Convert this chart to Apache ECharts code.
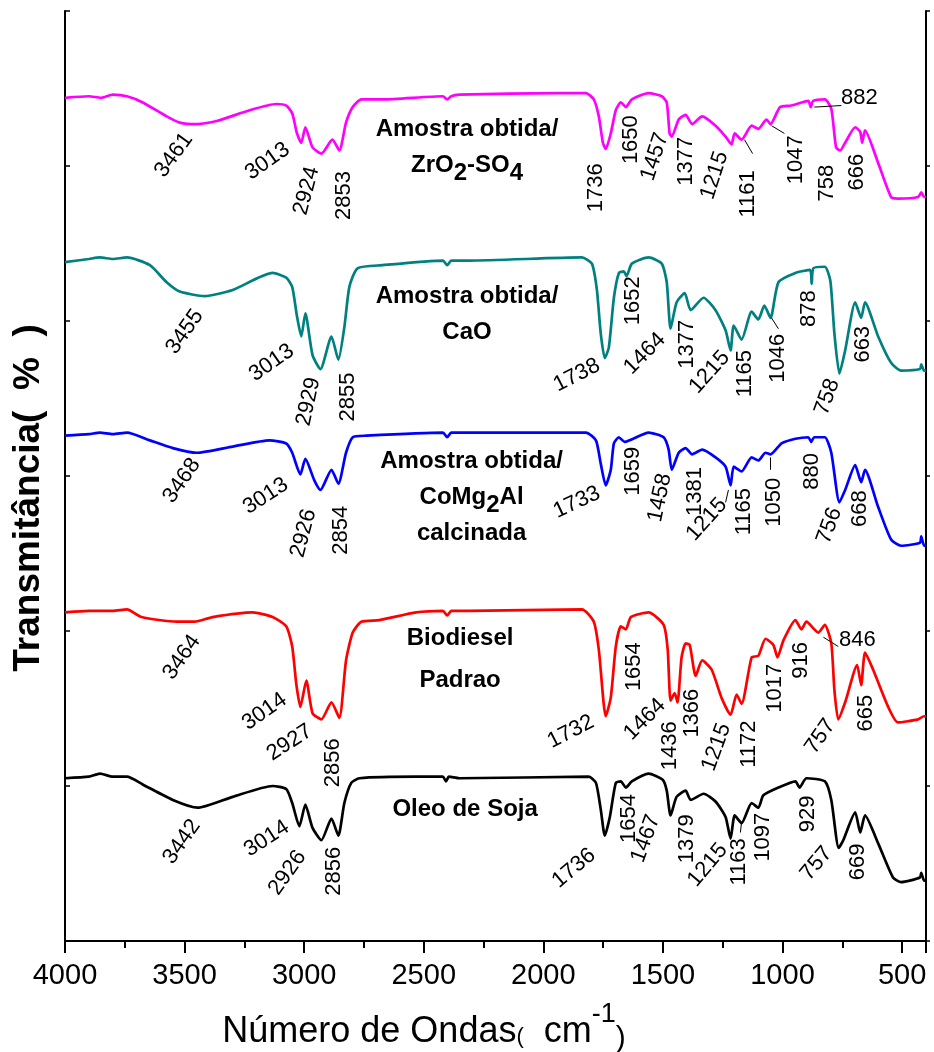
<!DOCTYPE html>
<html>
<head>
<meta charset="utf-8">
<script src="https://cdn.jsdelivr.net/npm/echarts@6/dist/echarts.min.js"></script>
<style>html,body{margin:0;padding:0;background:#fff;}#c{width:934px;height:1052px;}</style>
</head>
<body>
<div id="c"></div>
<script>
// ---- data (wavenumber cm-1, transmittance in stacked arbitrary % units) ----
const xTicks = [500, 1000, 1500, 2000, 2500, 3000, 3500, 4000];

const zrSpectrum = [[4000,54.4],[3900,54.5],[3850,54.4],[3800,54.6],[3741,54.5],[3675,54.1],[3575,53.2],[3520,52.8],[3450,52.7],[3366,52.9],[3228,53.6],[3116,54.0],[3075,53.9],[3050,53.4],[3030,52.1],[3012,51.5],[2995,52.5],[2965,51.2],[2928,50.8],[2882,51.7],[2853,51.0],[2825,52.8],[2797,53.8],[2761,54.3],[2673,54.3],[2420,54.5],[2402,54.3],[2385,54.5],[2352,54.6],[1935,54.7],[1822,54.7],[1789,54.3],[1768,53.2],[1751,51.5],[1739,51.1],[1718,52.1],[1697,53.6],[1676,54.1],[1655,53.8],[1630,54.3],[1560,54.7],[1505,54.5],[1484,54.1],[1472,52.1],[1463,51.9],[1434,53.0],[1405,53.3],[1378,52.7],[1336,53.2],[1280,52.6],[1238,51.9],[1213,51.4],[1200,52.1],[1171,51.7],[1129,52.6],[1101,52.4],[1067,53.0],[1050,52.7],[1010,53.8],[963,53.9],[892,54.2],[882,53.8],[872,54.2],[823,54.3],[796,53.7],[776,51.2],[759,51.0],[738,51.5],[696,52.5],[675,52.2],[667,51.5],[655,52.3],[600,50.2],[546,48.0],[517,47.9],[433,48.0],[420,48.3],[408,48.0],[400,48.0]];

const caoSpectrum = [[4000,43.8],[3900,44.0],[3854,44.1],[3800,44.0],[3741,44.1],[3645,43.6],[3575,42.5],[3520,41.9],[3416,41.6],[3299,42.0],[3132,43.1],[3075,42.8],[3050,42.2],[3030,40.3],[3012,39.0],[2995,40.5],[2965,37.8],[2932,36.9],[2886,39.0],[2857,37.5],[2832,39.6],[2811,42.2],[2777,43.4],[2673,43.6],[2420,43.9],[2402,43.6],[2385,43.9],[2310,43.9],[1839,44.1],[1797,43.7],[1776,42.0],[1760,39.2],[1743,37.6],[1726,38.3],[1705,41.5],[1684,43.1],[1664,43.2],[1652,42.9],[1630,43.7],[1560,44.1],[1505,43.7],[1484,42.5],[1468,39.5],[1443,41.2],[1409,41.8],[1384,40.7],[1330,41.5],[1280,40.7],[1238,39.4],[1217,38.1],[1204,39.7],[1171,38.8],[1129,40.6],[1101,40.1],[1076,41.0],[1050,40.2],[1017,42.5],[946,43.1],[885,43.3],[878,42.4],[871,43.4],[823,43.5],[800,42.6],[783,39.2],[762,36.6],[738,38.1],[696,41.2],[671,40.2],[655,41.2],[600,39.0],[546,37.3],[504,36.8],[425,36.9],[420,37.2],[408,36.8],[400,36.8]];

const coSpectrum = [[4000,32.6],[3900,32.7],[3854,32.8],[3800,32.7],[3741,32.8],[3645,32.3],[3549,31.8],[3450,31.5],[3299,31.9],[3145,32.3],[3075,32.1],[3050,31.5],[3016,30.1],[2995,31.1],[2957,29.7],[2932,29.1],[2886,30.4],[2857,29.5],[2825,31.5],[2797,32.5],[2740,32.6],[2420,32.8],[2402,32.5],[2385,32.8],[2310,32.8],[1822,32.8],[1780,32.3],[1760,30.8],[1739,29.4],[1718,30.4],[1705,32.1],[1684,32.5],[1660,32.2],[1560,32.8],[1497,32.5],[1476,31.7],[1463,30.4],[1434,31.5],[1405,31.8],[1378,31.4],[1336,31.7],[1280,31.2],[1238,30.6],[1217,29.4],[1204,30.6],[1171,30.3],[1129,31.2],[1101,31.0],[1071,31.5],[1050,31.4],[1004,32.1],[946,32.4],[892,32.5],[880,32.2],[868,32.5],[823,32.5],[796,31.5],[762,28.3],[738,29.1],[696,30.7],[671,29.6],[655,30.4],[600,28.0],[546,25.9],[504,25.5],[425,25.7],[420,26.1],[408,25.5],[400,25.5]];

const bioSpectrum = [[4000,21.2],[3900,21.3],[3854,21.3],[3800,21.3],[3741,21.4],[3680,20.9],[3533,20.6],[3458,20.6],[3383,20.9],[3216,21.2],[3132,20.9],[3075,20.3],[3050,19.0],[3033,16.6],[3016,15.1],[2991,16.8],[2965,14.7],[2928,14.3],[2886,15.4],[2853,14.4],[2825,18.1],[2797,19.9],[2761,20.6],[2686,20.7],[2532,21.2],[2420,21.3],[2402,21.0],[2385,21.3],[2310,21.3],[1839,21.4],[1789,20.6],[1768,18.8],[1739,14.5],[1718,15.7],[1697,19.0],[1676,20.3],[1655,20.1],[1634,20.9],[1560,21.2],[1497,20.4],[1480,18.8],[1468,15.5],[1451,16.0],[1439,15.4],[1422,18.3],[1405,19.2],[1388,19.1],[1363,17.1],[1336,18.1],[1296,17.5],[1255,15.7],[1217,14.6],[1192,15.9],[1171,15.3],[1129,18.3],[1101,18.4],[1071,19.5],[1038,19.1],[1021,18.3],[996,19.4],[946,20.7],[921,20.1],[900,20.6],[850,19.9],[823,20.4],[796,19.2],[783,16.2],[767,14.3],[738,15.4],[688,17.8],[671,16.5],[655,18.6],[621,17.5],[558,15.1],[517,14.1],[433,14.3],[408,14.5],[400,14.5]];

const sojaSpectrum = [[4000,10.5],[3900,10.6],[3854,10.8],[3800,10.6],[3741,10.6],[3675,10.1],[3549,9.1],[3445,8.6],[3299,9.3],[3132,10.0],[3075,9.8],[3050,8.9],[3020,7.4],[2995,8.8],[2965,7.3],[2928,6.5],[2886,7.9],[2857,6.8],[2832,8.9],[2803,10.2],[2769,10.5],[2532,10.6],[2420,10.6],[2407,10.3],[2395,10.6],[2352,10.5],[1810,10.6],[1780,10.2],[1760,8.5],[1743,6.8],[1722,8.0],[1697,10.2],[1676,10.3],[1655,9.9],[1630,10.3],[1560,10.8],[1501,10.4],[1484,9.7],[1468,8.1],[1443,9.3],[1405,9.7],[1384,9.1],[1330,9.5],[1280,9.0],[1238,8.0],[1217,6.6],[1200,8.1],[1171,7.6],[1129,8.9],[1101,8.6],[1080,9.4],[1017,9.9],[946,10.3],[929,9.9],[900,10.5],[823,10.3],[796,9.1],[765,6.0],[746,6.5],[696,8.3],[675,7.0],[655,8.1],[600,6.3],[538,4.1],[504,3.8],[425,4.1],[420,4.4],[408,3.9],[400,3.9]];

const seriesNames = ['Amostra obtida/ZrO2-SO4', 'Amostra obtida/CaO', 'Amostra obtida/CoMg2Al calcinada', 'Biodiesel Padrao', 'Oleo de Soja'];
const seriesColors = ['#ff00ff', '#008080', '#0000ff', '#ff0000', '#000000'];
const spectra = [zrSpectrum, caoSpectrum, coSpectrum, bioSpectrum, sojaSpectrum];

// peak annotations: [text, wavenumber, value, rotation]
const peakLabels = [
 ['3461',3545,50.7,54],['3013',3153,50.3,35],['2924',2990,48.4,75],['2853',2832,48.1,90],['1736',1780,48.6,90],['1650',1634,51.7,90],['1457',1534,50.6,72],['1377',1405,50.3,90],['1215',1284,49.4,72],['1161',1146,48.2,90],['1047',942,50.4,90],['882',679,54.4,0],['758',813,48.9,90],['666',687,49.6,90],
 ['3455',3499,39.3,55],['3013',3136,37.3,35],['2929',2982,34.8,78],['2855',2819,35.1,90],['1738',1860,36.5,27],['1652',1626,41.3,90],['1464',1576,37.9,45],['1377',1401,38.5,90],['1215',1305,36.7,48],['1165',1155,36.6,90],['1046',1021,37.6,90],['878',888,40.8,90],['758',813,35.1,70],['663',662,38.5,90],
 ['3468',3512,29.7,55],['3013',3161,28.7,33],['2926',3003,26.3,75],['2854',2848,26.5,90],['1733',1860,28.3,25],['1659',1626,30.3,90],['1458',1513,28.6,78],['1381',1367,29.0,90],['1215',1317,27.2,48],['1165',1163,27.7,90],['1050',1034,28.3,90],['880',879,30.3,90],['756',804,26.8,70],['668',675,27.9,90],
 ['3464',3512,18.3,55],['3014',3166,14.8,35],['2927',3061,12.8,33],['2856',2878,11.5,90],['1732',1885,13.5,27],['1654',1622,17.7,90],['1464',1576,14.3,45],['1436',1472,12.6,90],['1366',1380,14.7,90],['1215',1276,12.5,70],['1172',1142,12.7,90],['1017',1030,16.3,90],['916',921,18.1,90],['846',687,19.4,0],['757',842,13.2,55],['665',650,14.7,90],
 ['3442',3512,6.4,55],['3014',3157,6.6,33],['2926',3070,4.4,55],['2856',2874,4.5,90],['1736',1872,4.7,40],['1654',1643,7.9,90],['1467',1572,6.6,70],['1379',1401,6.6,90],['1215',1313,4.9,50],['1163',1184,5.1,90],['1097',1080,6.7,90],['929',892,8.2,90],['757',858,5.0,50],['669',683,5.1,90]
];

// thin leader lines from a band to its label: [[wn,value],[wn,value]]
const leaderLines = [
 [[1159,51.7],[1125,50.8]], [[1046,52.6],[992,52.1]], [[867,53.8],[754,53.9]],
 [[1046,40.2],[1017,39.5]], [[1050,31.2],[1050,30.4]], [[1226,29.1],[1238,28.3]],
 [[829,19.6],[767,19.0]], [[1171,7.7],[1176,7.0]]
];

// sample name annotations: [rich text, wavenumber, value, lineHeight]
const sampleLabels = [
 ['Amostra obtida/\nZrO{s|2}-SO{s|4}', 2319, 51.2, 36],
 ['Amostra obtida/\nCaO', 2319, 40.4, 36],
 ['Amostra obtida/\nCoMg{s|2}Al\ncalcinada', 2300, 28.6, 36],
 ['Biodiesel\nPadrao', 2348, 18.2, 42],
 ['Oleo de Soja', 2327, 8.5, 36]
];

const FONT = 'Liberation Sans, Arial, Helvetica, sans-serif';

const chart = echarts.init(document.getElementById('c'), null, {renderer: 'canvas'});

const lineSeries = spectra.map((d, i) => ({
  name: seriesNames[i], type: 'line', data: d, showSymbol: false, symbol: 'none',
  smooth: 0.2, lineStyle: {color: seriesColors[i], width: 2.7}, itemStyle: {color: seriesColors[i]},
  silent: true, z: 3
}));

const plainLabel = {color: '#000000', textBorderWidth: 0, textBorderColor: 'transparent',
  textShadowBlur: 0, opacity: 1};

const option = {
  animation: false,
  backgroundColor: '#ffffff',
  textStyle: {color: '#000000', fontFamily: FONT},
  grid: {left: 65, right: 8, top: 11, bottom: 111, show: false},
  xAxis: [
    {type: 'value', min: 400, max: 4000, inverse: true, splitNumber: 7, position: 'bottom',
     axisLine: {show: true, lineStyle: {color: '#000', width: 2}},
     axisTick: {show: true, inside: false, length: 12, lineStyle: {color: '#000', width: 2}},
     minorTick: {show: true, splitNumber: 2, length: 7, lineStyle: {color: '#000', width: 2}},
     splitLine: {show: false}, minorSplitLine: {show: false},
     axisLabel: {show: true, color: '#000', fontSize: 29, fontFamily: FONT, margin: 20,
       showMinLabel: false, showMaxLabel: true,
       formatter: v => (xTicks.indexOf(v) >= 0 ? String(v) : '')}},
    {type: 'value', min: 400, max: 4000, inverse: true, splitNumber: 7, position: 'top',
     axisLine: {show: true, lineStyle: {color: '#000', width: 2}},
     axisTick: {show: true, inside: true, length: 4, lineStyle: {color: '#000', width: 1.5}},
     minorTick: {show: true, splitNumber: 2, length: 4, lineStyle: {color: '#000', width: 1.5}},
     splitLine: {show: false}, axisLabel: {show: false}}
  ],
  yAxis: [
    {type: 'value', min: 0, max: 60, interval: 10, position: 'left',
     axisLine: {show: true, lineStyle: {color: '#000', width: 2}},
     axisTick: {show: true, inside: true, length: 5, lineStyle: {color: '#000', width: 1.5}},
     splitLine: {show: false}, axisLabel: {show: false}},
    {type: 'value', min: 0, max: 60, interval: 10, position: 'right',
     axisLine: {show: true, lineStyle: {color: '#000', width: 2}},
     axisTick: {show: true, inside: false, length: 4, lineStyle: {color: '#000', width: 1.5}},
     splitLine: {show: false}, axisLabel: {show: false}}
  ],
  series: lineSeries.concat([
    {type: 'scatter', name: 'peaks', symbolSize: 0, silent: true, z: 5,
     itemStyle: {color: '#000000'},
     data: peakLabels.map(p => ({name: p[0], value: [p[1], p[2]],
       label: Object.assign({rotate: p[3]}, plainLabel)})),
     label: Object.assign({show: true, position: 'inside', formatter: '{b}', fontSize: 22,
       fontFamily: FONT, align: 'center', verticalAlign: 'middle'}, plainLabel)},
    {type: 'lines', coordinateSystem: 'cartesian2d', silent: true, z: 4,
     data: leaderLines.map(l => ({coords: l})),
     lineStyle: {color: '#000', width: 1, opacity: 1}},
    {type: 'scatter', name: 'samples', symbolSize: 0, silent: true, z: 5,
     itemStyle: {color: '#000000'},
     data: sampleLabels.map(s => ({name: 'sample', value: [s[1], s[2]],
       label: Object.assign({formatter: s[0], lineHeight: s[3],
         rich: {s: Object.assign({fontSize: 24, fontWeight: 'bold', fontFamily: FONT, lineHeight: s[3], padding: [16, 0, 0, 0]}, plainLabel)}}, plainLabel)})),
     label: Object.assign({show: true, position: 'inside', fontSize: 24, fontWeight: 'bold',
       fontFamily: FONT, align: 'center', verticalAlign: 'middle'}, plainLabel)}
  ]),
  graphic: [
    {type: 'text', x: 29, y: 498, rotation: Math.PI / 2, silent: true,
     style: {text: 'Transmitância(  %  )', fontSize: 37, fontWeight: 'bold', fontFamily: FONT,
       fill: '#000', align: 'center', verticalAlign: 'middle'}},
    {type: 'text', x: 424, y: 1032, silent: true,
     style: {text: '{m|Número de Ondas}{p|(}{m|  cm}{s|-1}{q|)}', align: 'center', verticalAlign: 'middle', fill: '#000',
       rich: {
         m: {fontSize: 36, fontFamily: FONT, fill: '#000', lineHeight: 42},
         p: {fontSize: 22, fontFamily: FONT, fill: '#000', lineHeight: 32, padding: [10, 0, 0, 0]},
         s: {fontSize: 27, fontFamily: FONT, fill: '#000', lineHeight: 8, padding: [0, 0, 34, 0]},
         q: {fontSize: 30, fontFamily: FONT, fill: '#000', lineHeight: 28, padding: [14, 0, 0, 0]}
       }}}
  ]
};
chart.setOption(option);
</script>
</body>
</html>
